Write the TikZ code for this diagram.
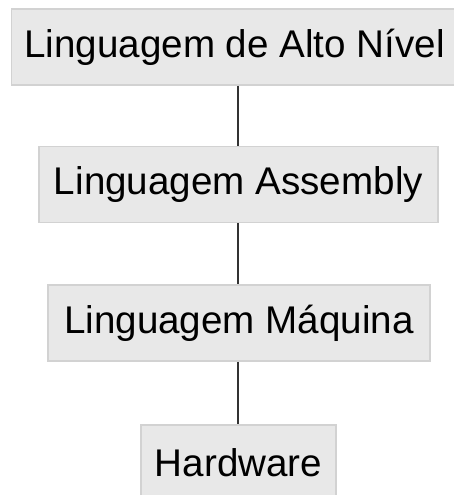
\documentclass[tikz,border=0pt]{standalone}
\usepackage{fontspec}
\setmainfont{Liberation Sans}
\definecolor{boxfill}{HTML}{E8E8E8}
\definecolor{boxline}{HTML}{D2D2D2}
\definecolor{linkcol}{HTML}{333333}
\begin{document}
\begin{tikzpicture}[x=1pt,y=-1pt,
  layer/.style={draw=boxline, line width=1.5pt, fill=boxfill, minimum height=76pt,
    inner sep=0pt, font=\fontsize{38.6}{46}\selectfont, text=black},
  link/.style={draw=linkcol, line width=1.8pt}]
\useasboundingbox (0,0) rectangle (454,495);
\node[layer, minimum width=446pt] (hl) at (234.5,47) {Linguagem de Alto Nível};
\node[layer, minimum width=399pt] (asm) at (238.5,184.5) {Linguagem Assembly};
\node[layer, minimum width=382pt] (mq) at (239,323) {Linguagem Máquina};
\node[layer, minimum width=195pt] (hw) at (238.5,463) {Hardware};
\draw[link] (hl.south -| 238,0) -- (asm.north -| 238,0);
\draw[link] (asm.south -| 238,0) -- (mq.north -| 238,0);
\draw[link] (mq.south -| 238,0) -- (hw.north -| 238,0);
\end{tikzpicture}
\end{document}
